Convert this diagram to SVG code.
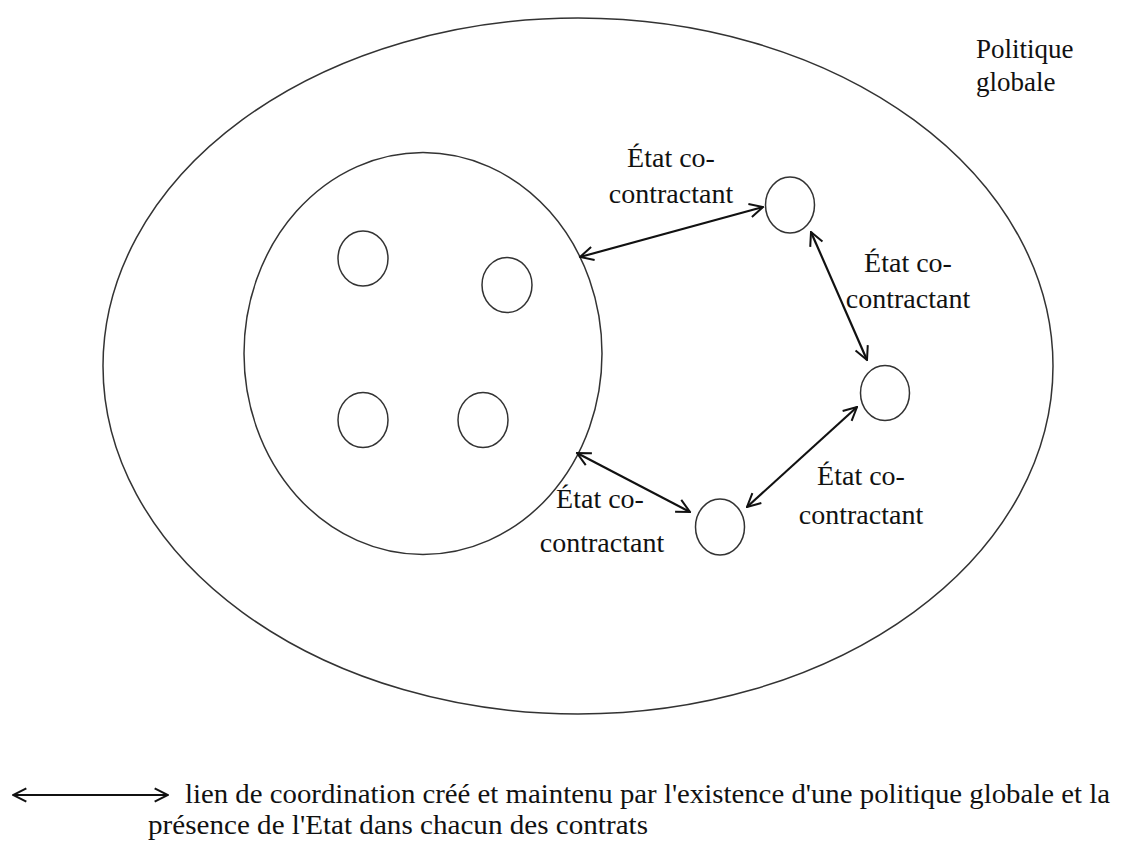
<svg xmlns="http://www.w3.org/2000/svg" width="1133" height="842" viewBox="0 0 1133 842">
<defs>
<style>
.shape{fill:none;stroke:#333;stroke-width:1.5}
.link{fill:none;stroke:#111;stroke-width:2.2;marker-start:url(#ah);marker-end:url(#ah)}
</style>
<marker id="ah" viewBox="0 0 12 12" refX="11" refY="6" markerWidth="16" markerHeight="16" markerUnits="userSpaceOnUse" orient="auto-start-reverse">
<path d="M1,1 L11,6 L1,11" fill="none" stroke="#111" stroke-width="1.5"/>
</marker>
</defs>
<rect width="1133" height="842" fill="#fff"/>
<g id="politique-globale">
<ellipse class="shape" cx="578" cy="366" rx="475" ry="348"/>
<g font-family="Liberation Serif, Times New Roman, serif" font-size="27" fill="#111">
<text x="976" y="58">Politique</text>
<text x="976" y="91">globale</text>
</g>
</g>
<g id="groupe-interne">
<ellipse class="shape" cx="423" cy="353.5" rx="179" ry="201"/>
</g>
<g id="n-int1"><ellipse class="shape" cx="363" cy="258.5" rx="25" ry="27.5"/></g>
<g id="n-int2"><ellipse class="shape" cx="507" cy="285" rx="25" ry="27.5"/></g>
<g id="n-int3"><ellipse class="shape" cx="363" cy="420" rx="25" ry="27.5"/></g>
<g id="n-int4"><ellipse class="shape" cx="483" cy="420" rx="25" ry="27.5"/></g>
<g id="n-ext1"><ellipse class="shape" cx="790" cy="205" rx="24.5" ry="28"/></g>
<g id="n-ext2"><ellipse class="shape" cx="885" cy="393" rx="24.5" ry="27.5"/></g>
<g id="n-ext3"><ellipse class="shape" cx="720" cy="527" rx="24.5" ry="28"/></g>
<g id="connectors">
<line class="link" x1="580" y1="257" x2="763" y2="207"/>
<line class="link" x1="811" y1="232" x2="867" y2="360"/>
<line class="link" x1="857" y1="407" x2="747" y2="507"/>
<line class="link" x1="577" y1="453" x2="690" y2="512"/>
</g>
<g id="labels" font-family="Liberation Serif, Times New Roman, serif" font-size="28" fill="#111" text-anchor="middle">
<text x="671" y="167">État co-</text>
<text x="671" y="203">contractant</text>
<text x="908" y="272">État co-</text>
<text x="908" y="308">contractant</text>
<text x="861" y="485">État co-</text>
<text x="861" y="524">contractant</text>
<text x="600" y="508">État co-</text>
<text x="602" y="552">contractant</text>
</g>
<g id="legende">
<line class="link" x1="13" y1="795" x2="168" y2="795"/>
<g font-family="Liberation Serif, Times New Roman, serif" font-size="27" fill="#111">
<text x="185" y="803" textLength="925" lengthAdjust="spacingAndGlyphs">lien de coordination créé et maintenu par l'existence d'une politique globale et la</text>
<text x="148" y="834" textLength="500" lengthAdjust="spacingAndGlyphs">présence de l'Etat dans chacun des contrats</text>
</g>
</g>
</svg>
